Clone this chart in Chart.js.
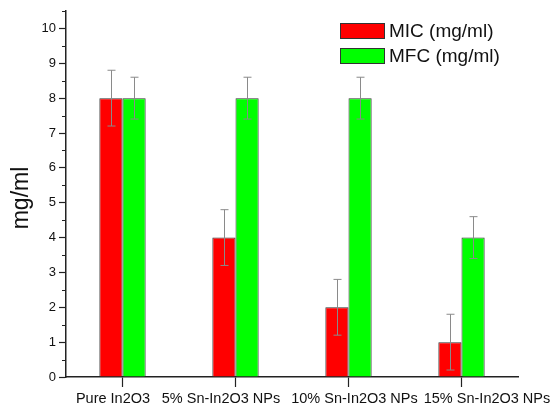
<!DOCTYPE html>
<html>
<head>
<meta charset="utf-8">
<script src="https://cdn.jsdelivr.net/npm/chart.js@4.4.1/dist/chart.umd.min.js"></script>
<style>
  html, body { margin: 0; padding: 0; background: #fff; }
</style>
</head>
<body>
<canvas id="mainChart" width="553" height="406"></canvas>
<script>
// datos
const categories = ['Pure In2O3', '5% Sn-In2O3 NPs', '10% Sn-In2O3 NPs', '15% Sn-In2O3 NPs'];
const micValues = [8, 4, 2, 1];
const micErrors = [0.8, 0.8, 0.8, 0.8];
const mfcValues = [8, 8, 8, 4];
const mfcErrors = [0.6, 0.6, 0.6, 0.6];
const seriesLabels = ['MIC (mg/ml)', 'MFC (mg/ml)'];
const yAxisTitle = 'mg/ml';

// ajustes de estilo (no son datos)
const labelShift = [-9.5, -14.5, 6, 25.5];
const FONT = 'Arial, "Liberation Sans", sans-serif';
const AXIS_COLOR = '#222';

const errorBarsPlugin = {
    id: 'errorBars',
    afterDatasetsDraw(chart) {
        const ctx = chart.ctx;
        const y = chart.scales.y;
        ctx.save();
        ctx.strokeStyle = '#8a8a8a';
        ctx.lineWidth = 1;
        chart.data.datasets.forEach((ds, di) => {
            const meta = chart.getDatasetMeta(di);
            meta.data.forEach((bar, i) => {
                const v = ds.data[i];
                const e = ds.errors[i];
                const x = Math.round(bar.x) + 0.5;
                const top = y.getPixelForValue(v + e);
                const bot = y.getPixelForValue(v - e);
                ctx.beginPath();
                ctx.moveTo(x, top); ctx.lineTo(x, bot);
                ctx.moveTo(x - 4, top); ctx.lineTo(x + 4, top);
                ctx.moveTo(x - 4, bot); ctx.lineTo(x + 4, bot);
                ctx.stroke();
            });
        });
        ctx.restore();
    }
};

const axisExtrasPlugin = {
    id: 'axisExtras',
    afterDraw(chart) {
        const ctx = chart.ctx;
        const x = chart.scales.x;
        const y = chart.scales.y;
        ctx.save();
        // ticks menores del eje y
        ctx.strokeStyle = AXIS_COLOR;
        ctx.lineWidth = 1;
        y.ticks.forEach(t => {
            if (!Number.isInteger(t.value)) {
                const py = Math.round(y.getPixelForValue(t.value)) + 0.5;
                ctx.beginPath();
                ctx.moveTo(x.left - 4, py);
                ctx.lineTo(x.left, py);
                ctx.stroke();
            }
        });
        // titulo del eje y
        ctx.fillStyle = '#111';
        ctx.font = '23px ' + FONT;
        ctx.textAlign = 'center';
        ctx.textBaseline = 'middle';
        ctx.save();
        ctx.translate(22, 198);
        ctx.rotate(-Math.PI / 2);
        ctx.fillText(yAxisTitle, 0, 0);
        ctx.restore();
        // etiquetas de categorias
        ctx.font = '14.5px ' + FONT;
        ctx.textAlign = 'center';
        ctx.textBaseline = 'alphabetic';
        chart.data.labels.forEach((lab, i) => {
            ctx.fillText(lab, x.getPixelForValue(i) + labelShift[i], 403);
        });
        // leyenda
        ctx.font = '19px ' + FONT;
        ctx.textAlign = 'left';
        ctx.textBaseline = 'middle';
        chart.data.datasets.forEach((ds, i) => {
            const by = 23 + i * 25;
            ctx.fillStyle = ds.backgroundColor;
            ctx.fillRect(340, by, 45, 16);
            ctx.strokeStyle = '#333';
            ctx.lineWidth = 1;
            ctx.strokeRect(340.5, by + 0.5, 44, 15);
            ctx.fillStyle = '#111';
            ctx.fillText(ds.label, 389, by + 8.5);
        });
        ctx.restore();
    }
};

document.addEventListener('DOMContentLoaded', () => {
    const ctx = document.getElementById('mainChart').getContext('2d');
    new Chart(ctx, {
        type: 'bar',
        data: {
            labels: categories,
            datasets: [
                {
                    label: seriesLabels[0],
                    data: micValues,
                    errors: micErrors,
                    backgroundColor: '#ff0000',
                    borderColor: '#333',
                    borderWidth: 1,
                    categoryPercentage: 0.41,
                    barPercentage: 1.0
                },
                {
                    label: seriesLabels[1],
                    data: mfcValues,
                    errors: mfcErrors,
                    backgroundColor: '#00ff00',
                    borderColor: '#333',
                    borderWidth: 1,
                    categoryPercentage: 0.41,
                    barPercentage: 1.0
                }
            ]
        },
        options: {
            responsive: false,
            animation: false,
            layout: { padding: { top: 11, right: 35, bottom: 0, left: 0 } },
            plugins: {
                legend: { display: false },
                tooltip: { enabled: false }
            },
            scales: {
                x: {
                    offset: true,
                    grid: {
                        offset: false,
                        drawOnChartArea: false,
                        tickLength: 10,
                        tickColor: AXIS_COLOR,
                        tickWidth: 1.2
                    },
                    border: { color: AXIS_COLOR, width: 1.5 },
                    ticks: { display: false },
                    afterFit(scale) { scale.height = 29; }
                },
                y: {
                    min: 0,
                    max: 10.5,
                    ticks: {
                        stepSize: 0.5,
                        autoSkip: false,
                        padding: 3,
                        color: '#111',
                        font: { family: FONT, size: 13 },
                        callback: v => Number.isInteger(v) ? v : ''
                    },
                    grid: {
                        drawOnChartArea: false,
                        tickLength: 7,
                        tickWidth: 1.2,
                        tickColor: c => Number.isInteger(c.tick.value) ? AXIS_COLOR : 'rgba(0,0,0,0)'
                    },
                    border: { color: AXIS_COLOR, width: 1.5 },
                    afterFit(scale) { scale.width = 66; }
                }
            }
        },
        plugins: [errorBarsPlugin, axisExtrasPlugin]
    });
});
</script>
</body>
</html>
